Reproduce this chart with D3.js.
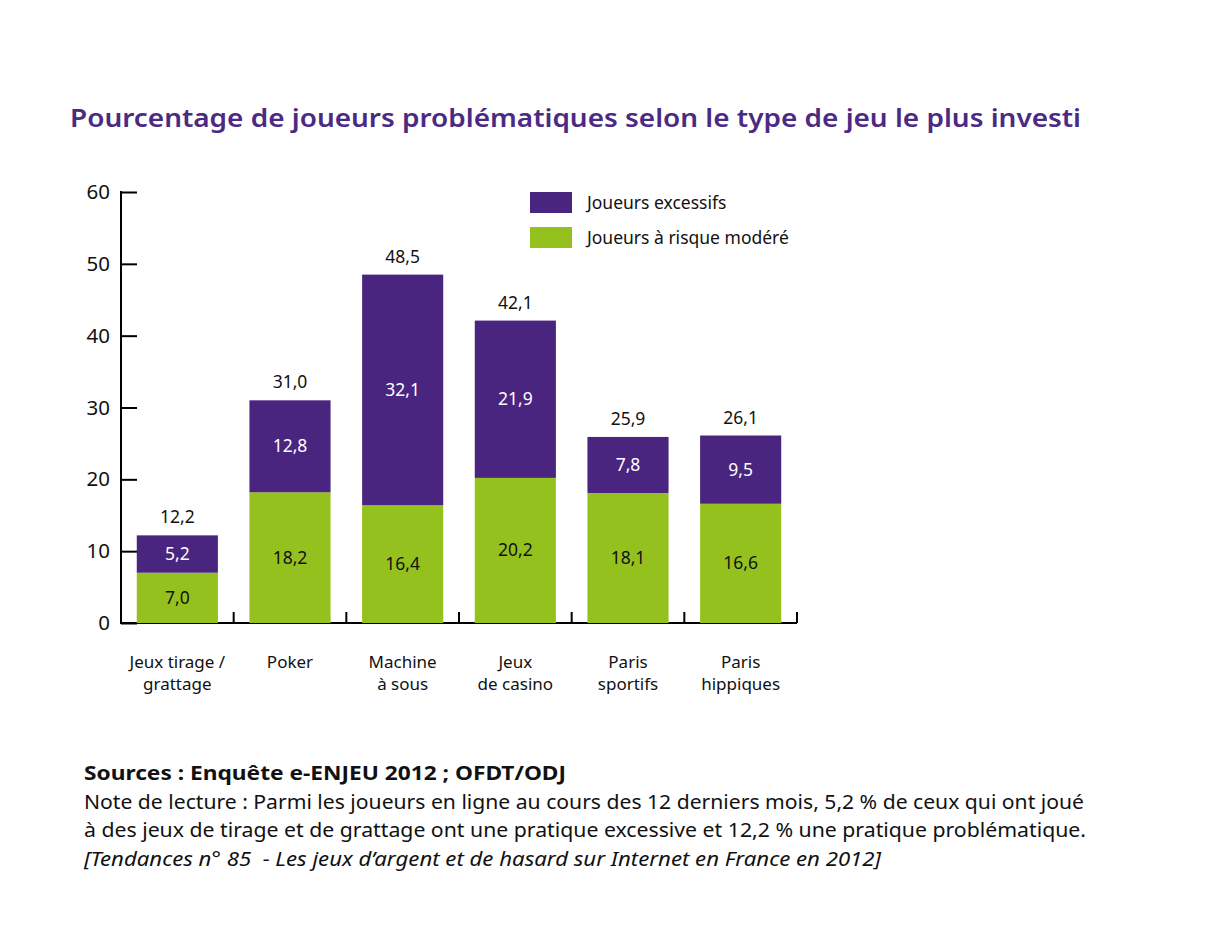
<!DOCTYPE html>
<html>
<head>
<meta charset="utf-8">
<script src="https://cdn.jsdelivr.net/npm/d3@7"></script>
<style>
  body { margin: 0; background: #fff; }
  svg { font-family: "Noto Sans", "Open Sans", sans-serif; }
  .foot { white-space: pre; }
</style>
</head>
<body>
<div id="chart"></div>
<script>
const categories = [
  ["Jeux tirage /", "grattage"],
  ["Poker"],
  ["Machine", "à sous"],
  ["Jeux", "de casino"],
  ["Paris", "sportifs"],
  ["Paris", "hippiques"]
]
const moderate = [7.0, 18.2, 16.4, 20.2, 18.1, 16.6]
const excessive = [5.2, 12.8, 32.1, 21.9, 7.8, 9.5]
const totals = [12.2, 31.0, 48.5, 42.1, 25.9, 26.1]
const yTicks = [0, 10, 20, 30, 40, 50, 60]
const seriesNames = ["Joueurs excessifs", "Joueurs à risque modéré"]

const titleText = "Pourcentage de joueurs problématiques selon le type de jeu le plus investi"
const footLines = [
  "Sources : Enquête e-ENJEU 2012 ; OFDT/ODJ",
  "Note de lecture : Parmi les joueurs en ligne au cours des 12 derniers mois, 5,2 % de ceux qui ont joué",
  "à des jeux de tirage et de grattage ont une pratique excessive et 12,2 % une pratique problématique.",
  "[Tendances n° 85  - Les jeux d’argent et de hasard sur Internet en France en 2012]"
]

const canvas = {width: 1214, height: 927, left: 121, right: 797, top: 192, bottom: 623}
const purple = "#4a2580"
const green = "#95c11f"
const fmt = v => v.toFixed(1).replace(".", ",")

const svg = d3.select("#chart").append("svg")
  .attr("width", canvas.width).attr("height", canvas.height)

svg.append("text").attr("x", 70).attr("y", 127)
  .attr("font-size", 26).attr("font-weight", 600).attr("fill", "#4b2a84")
  .attr("textLength", 1011).attr("lengthAdjust", "spacingAndGlyphs")
  .text(titleText)

const idx = d3.range(categories.length)
const x = d3.scaleBand().domain(idx).range([canvas.left, canvas.right])
  .paddingInner(0.28).paddingOuter(0.14)
const y = d3.scaleLinear().domain([0, 60]).range([canvas.bottom, canvas.top])
const step = x.step()

// y axis, ticks inward
const yAxis = svg.append("g").attr("transform", `translate(${canvas.left},0)`)
  .call(d3.axisRight(y).tickValues(yTicks).tickSize(16).tickFormat(""))
yAxis.select(".domain").remove()
yAxis.selectAll("line").attr("stroke", "#000").attr("stroke-width", 2)
svg.append("line").attr("x1", canvas.left).attr("x2", canvas.left)
  .attr("y1", y(60) - 1).attr("y2", y(0) + 1).attr("stroke", "#000").attr("stroke-width", 2)

svg.selectAll(".ylab").data(yTicks).enter().append("text").attr("class", "ylab")
  .attr("x", 110).attr("y", d => y(d) + 7).attr("text-anchor", "end")
  .attr("font-size", 20.5).attr("fill", "#111").text(d => d)

// x axis with upward ticks at band boundaries
svg.append("line").attr("x1", canvas.left).attr("x2", canvas.right)
  .attr("y1", y(0)).attr("y2", y(0)).attr("stroke", "#000").attr("stroke-width", 2)
svg.selectAll(".xtick").data(idx).enter().append("line").attr("class", "xtick")
  .attr("x1", d => x(d) - step * 0.14 + step).attr("x2", d => x(d) - step * 0.14 + step)
  .attr("y1", y(0)).attr("y2", y(0) - 11).attr("stroke", "#000").attr("stroke-width", 2)

// bars
const bars = svg.selectAll(".bar").data(idx).enter().append("g").attr("class", "bar")
bars.append("rect").attr("x", d => x(d)).attr("width", x.bandwidth())
  .attr("y", d => y(moderate[d])).attr("height", d => y(0) - y(moderate[d]))
  .attr("fill", green)
bars.append("rect").attr("x", d => x(d)).attr("width", x.bandwidth())
  .attr("y", d => y(moderate[d] + excessive[d])).attr("height", d => y(moderate[d]) - y(moderate[d] + excessive[d]))
  .attr("fill", purple)

bars.append("text").attr("x", d => x(d) + x.bandwidth() / 2)
  .attr("y", d => y(moderate[d] / 2) + 6).attr("text-anchor", "middle")
  .attr("font-size", 17.5).attr("fill", "#111").text(d => fmt(moderate[d]))
bars.append("text").attr("x", d => x(d) + x.bandwidth() / 2)
  .attr("y", d => y(moderate[d] + excessive[d] / 2) + 6).attr("text-anchor", "middle")
  .attr("font-size", 17.5).attr("fill", "#fff").text(d => fmt(excessive[d]))
bars.append("text").attr("x", d => x(d) + x.bandwidth() / 2)
  .attr("y", d => y(totals[d]) - 12).attr("text-anchor", "middle")
  .attr("font-size", 17.5).attr("fill", "#111").text(d => fmt(totals[d]))

// category labels
svg.selectAll(".cat").data(idx).enter().append("text").attr("class", "cat")
  .attr("x", d => x(d) + x.bandwidth() / 2).attr("y", 668)
  .attr("text-anchor", "middle").attr("font-size", 17).attr("fill", "#111")
  .selectAll("tspan").data(d => categories[d]).enter().append("tspan")
  .attr("x", function() { return this.parentNode.getAttribute("x") })
  .attr("dy", (t, i) => i === 0 ? 0 : 22).text(t => t)

// legend
const legend = svg.selectAll(".leg").data(seriesNames).enter().append("g").attr("class", "leg")
  .attr("transform", (d, i) => `translate(530,${192 + i * 35})`)
legend.append("rect").attr("width", 42).attr("height", 21)
  .attr("fill", (d, i) => i === 0 ? purple : green)
legend.append("text").attr("x", 57).attr("y", 17).attr("font-size", 17.5).attr("fill", "#111")
  .text(d => d)

// footer
const footWidths = [482, 1000, 1002, 797]
svg.selectAll(".foot").data(footLines).enter().append("text").attr("class", "foot")
  .attr("x", 84).attr("y", (d, i) => 780 + i * 28.7)
  .attr("font-size", 19).attr("fill", "#111")
  .attr("font-weight", (d, i) => i === 0 ? 700 : 400)
  .attr("font-style", (d, i) => i === 3 ? "italic" : "normal")
  .attr("textLength", (d, i) => footWidths[i]).attr("lengthAdjust", "spacingAndGlyphs")
  .text(d => d)
</script>
</body>
</html>
